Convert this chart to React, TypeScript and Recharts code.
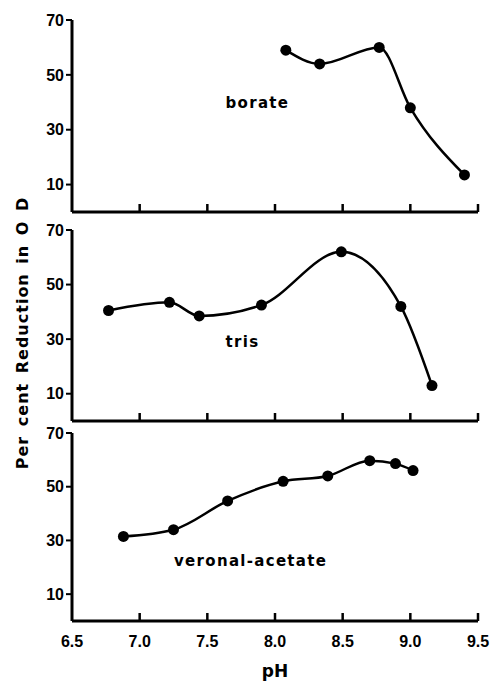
import React from 'react';
import { LineChart, Line, XAxis, YAxis, ReferenceDot } from 'recharts';

const xTicks = [6.5, 7.0, 7.5, 8.0, 8.5, 9.0, 9.5];
const yTicks = [10, 30, 50, 70];

const boratePh = [8.08, 8.33, 8.77, 9.0, 9.4];
const borateVal = [59, 54, 60, 38, 13.5];
const trisPh = [6.77, 7.22, 7.44, 7.9, 8.49, 8.93, 9.16];
const trisVal = [40.5, 43.5, 38.5, 42.5, 62, 42, 13];
const veronalPh = [6.88, 7.25, 7.65, 8.06, 8.39, 8.7, 8.89, 9.02];
const veronalVal = [31.5, 34, 44.7, 52, 54, 59.7, 58.6, 56];

const seriesNames = ['borate', 'tris', 'veronal-acetate'];
const yTitle = 'Per cent Reduction in O D';
const xTitle = 'pH';

const toRows = (ph: number[], v: number[]) => ph.map((p, i) => ({ ph: p, v: v[i] }));

const labelFont = 'DejaVu Sans';
const tickFont = 'Liberation Sans';

function XTick(props: any) {
  const { x, y, payload, showLabel } = props;
  return (
    <g>
      {payload.value !== 6.5 && (
        <line x1={x} x2={x} y1={y} y2={y - 8} stroke="#000" strokeWidth={2.5} />
      )}
      {showLabel && (
        <text x={x} y={y + 26} textAnchor="middle" fill="#000" fontSize={16} fontWeight="bold" fontFamily={tickFont}>
          {Number(payload.value).toFixed(1)}
        </text>
      )}
    </g>
  );
}

function Panel(props: any) {
  const { top, height, xAxisHeight, data, name, labelPos, showX } = props;
  return (
    <div style={{ position: 'absolute', left: 0, top }}>
      <LineChart width={493} height={height} data={data} margin={{ top: 12, right: 15, bottom: 0, left: 0 }}>
        <XAxis
          dataKey="ph"
          type="number"
          domain={[6.5, 9.5]}
          ticks={xTicks}
          interval={0}
          height={xAxisHeight}
          axisLine={{ stroke: '#000', strokeWidth: 3 }}
          tickLine={false}
          tickSize={0}
          tickMargin={0}
          tick={(p: any) => <XTick {...p} showLabel={showX} />}
          label={
            showX
              ? {
                  content: (lp: any) => {
                    const vb = lp.viewBox || {};
                    return (
                      <text x={vb.x + vb.width / 2} y={vb.y + 56} textAnchor="middle" fill="#000" fontSize={17} fontWeight="bold" fontFamily={labelFont}>
                        {xTitle}
                      </text>
                    );
                  },
                }
              : undefined
          }
        />
        <YAxis
          type="number"
          domain={[0, 70]}
          ticks={yTicks}
          interval={0}
          width={72}
          axisLine={{ stroke: '#000', strokeWidth: 3 }}
          tickLine={{ stroke: '#000', strokeWidth: 2 }}
          tickSize={6}
          tickMargin={2}
          tick={{ fill: '#000', fontSize: 16, fontWeight: 'bold', fontFamily: tickFont }}
        />
        <Line
          dataKey="v"
          type="monotone"
          stroke="#000"
          strokeWidth={2.5}
          dot={{ r: 5.5, fill: '#000', stroke: '#000', strokeWidth: 0 }}
          isAnimationActive={false}
        />
        <ReferenceDot
          x={labelPos[0]}
          y={labelPos[1]}
          r={0}
          fill="none"
          stroke="none"
          label={{
            content: (lp: any) => {
              const vb = lp.viewBox || {};
              const cx = vb.x + (vb.width || 0) / 2;
              const cy = vb.y + (vb.height || 0) / 2;
              return (
                <text x={cx} y={cy + 5} textAnchor="middle" fill="#000" fontSize={15} fontWeight="bold" fontFamily={labelFont} letterSpacing={1.3}>
                  {name}
                </text>
              );
            },
          }}
        />
      </LineChart>
    </div>
  );
}

export default function App() {
  return (
    <div style={{ position: 'absolute', left: 0, top: 0, width: 493, height: 682, background: '#fff' }}>
      <Panel top={8} height={212} xAxisHeight={8} data={toRows(boratePh, borateVal)} name={seriesNames[0]} labelPos={[7.87, 39.7]} showX={false} />
      <Panel top={218} height={211} xAxisHeight={8} data={toRows(trisPh, trisVal)} name={seriesNames[1]} labelPos={[7.76, 29]} showX={false} />
      <Panel top={421} height={260} xAxisHeight={60} data={toRows(veronalPh, veronalVal)} name={seriesNames[2]} labelPos={[7.82, 22.4]} showX={true} />
      <svg width={493} height={682} style={{ position: 'absolute', left: 0, top: 0, pointerEvents: 'none' }}>
        <text
          x={22}
          y={333}
          transform="rotate(-90, 22, 333)"
          textAnchor="middle"
          dominantBaseline="central"
          fill="#000"
          fontSize={16}
          fontWeight="bold"
          fontFamily={labelFont}
          letterSpacing={1}
          wordSpacing={3}
        >
          {yTitle}
        </text>
      </svg>
    </div>
  );
}
